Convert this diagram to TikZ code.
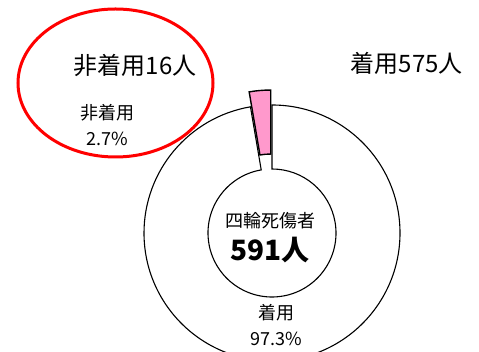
\documentclass[tikz,border=0pt]{standalone}
\usepackage{fontspec}
\setmainfont{Noto Sans CJK JP}
\usetikzlibrary{positioning, calc}
\definecolor{pinkfill}{RGB}{255,153,204}

\begin{document}
\begin{tikzpicture}[x=1pt, y=1pt, ring/.style={draw, fill=white, line width=1.1pt}, slice/.style={draw, fill=pinkfill, line width=1.4pt, line join=miter}, lbl/.style={inner sep=0pt, font=\fontsize{18}{18}\selectfont}, head/.style={inner sep=0pt, font=\fontsize{24}{24}\selectfont}]

  \useasboundingbox (0,0) rectangle (479,352);
  \clip (0,0) rectangle (479,352);

  \coordinate (ctr) at (272,119);
  \coordinate (sctr) at ($(ctr)+(94.85:15)$);

  % donut: 97.3% ring and exploded 2.7% slice
  \draw[ring] (ctr) ++(90:128) arc[start angle=90, end angle=-260.3, radius=128]
    -- ($(ctr)+(-260.3:64)$) arc[start angle=-260.3, end angle=90, radius=64] -- cycle;
  \draw[slice] (sctr) ++(90:128) arc[start angle=90, end angle=99.7, radius=128]
    -- ($(sctr)+(99.7:64)$) arc[start angle=99.7, end angle=90, radius=64] -- cycle;

  % red ellipse round the non-use label
  \draw[red, line width=3pt] (115.5,269) ellipse[x radius=97.5, y radius=74];

  \node[head] (nonuse) at (135,287) {非着用16人};
  \node[head] (use) at (406.7,289) {着用575人};
  \node[lbl] (nonlbl) at (107.5,239) {非着用};
  \node[lbl, below=10pt of nonlbl] (nonpct) {2.7\%};
  \node[lbl] (total) at (270,131.3) {四輪死傷者};
  \node[inner sep=0pt, font=\fontsize{28}{28}\selectfont\bfseries, below=8pt of total] (count) {591人};
  \node[lbl] (uselbl) at (276.7,39) {着用};
  \node[lbl, below=10pt of uselbl] (usepct) {97.3\%};
\end{tikzpicture}
\end{document}
